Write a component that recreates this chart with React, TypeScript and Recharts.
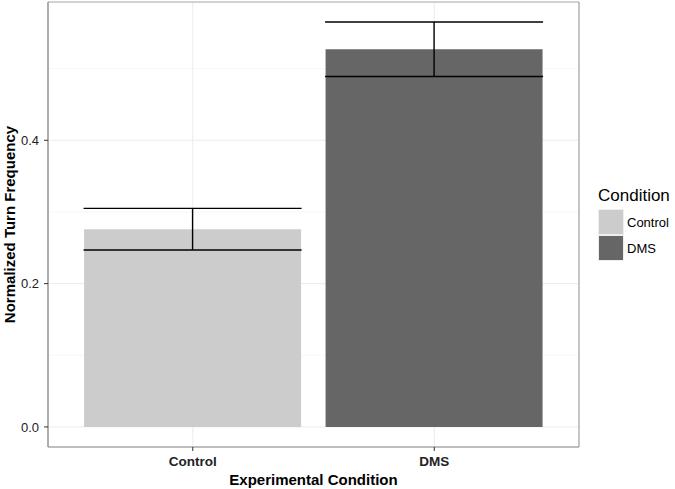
import { BarChart, Bar, Cell, XAxis, YAxis, CartesianGrid, ErrorBar, Legend, Customized, usePlotArea } from 'recharts'

const CONDITIONS = ['Control', 'DMS']
const MEANS = [0.276, 0.527]
const ERRORS = [0.029, 0.038]
const FILLS = ['#cccccc', '#666666']
const Y_TICKS = [0, 0.2, 0.4]
const MINOR_TICKS = [0.1, 0.3, 0.5]

const data = CONDITIONS.map((name, i) => ({ name, value: MEANS[i], err: ERRORS[i] }))

const FONT = '"Liberation Sans", Arial, sans-serif'

// ggplot-style panel border around the plot area
function PanelBorder() {
  const area = usePlotArea()
  if (!area) return null
  const { x, y, width, height } = area
  return (
    <g>
      <line x1={x} y1={y} x2={x + width} y2={y} stroke="#a6a6a6" strokeWidth={1.2} />
      <line x1={x + width} y1={y} x2={x + width} y2={y + height} stroke="#a6a6a6" strokeWidth={1.2} />
      <line x1={x} y1={y + height} x2={x + width} y2={y + height} stroke="#7f7f7f" strokeWidth={1.2} />
      <line x1={x} y1={y} x2={x} y2={y + height} stroke="#7f7f7f" strokeWidth={1.2} />
    </g>
  )
}

function ConditionLegend() {
  return (
    <div style={{ fontFamily: FONT, paddingLeft: 19, color: '#000', whiteSpace: 'nowrap' }}>
      <div style={{ fontSize: 17, lineHeight: '20px', marginBottom: 3 }}>Condition</div>
      {CONDITIONS.map((c, i) => (
        <div key={c} style={{ display: 'flex', alignItems: 'center', height: 26 }}>
          <span
            style={{
              display: 'inline-block',
              boxSizing: 'border-box',
              width: 26,
              height: 26,
              background: FILLS[i],
              border: '1.5px solid #eeeeee',
            }}
          />
          <span style={{ fontSize: 13, marginLeft: 3 }}>{c}</span>
        </div>
      ))}
    </div>
  )
}

function XTitle({ viewBox }: any) {
  if (!viewBox) return null
  return (
    <text
      x={viewBox.x + viewBox.width / 2}
      y={viewBox.y + 38}
      textAnchor="middle"
      style={{ fontSize: 15, fontWeight: 'bold', fill: '#000', fontFamily: FONT }}
    >
      Experimental Condition
    </text>
  )
}

function YTitle({ viewBox }: any) {
  if (!viewBox) return null
  const cx = viewBox.x + 15
  const cy = viewBox.y + viewBox.height / 2
  return (
    <text
      x={cx}
      y={cy}
      transform={`rotate(-90, ${cx}, ${cy})`}
      textAnchor="middle"
      style={{ fontSize: 15, fontWeight: 'bold', fill: '#000', fontFamily: FONT }}
    >
      Normalized Turn Frequency
    </text>
  )
}

export default function App() {
  return (
    <div style={{ position: 'absolute', left: 0, top: 0, width: 675, height: 489, background: '#fff', overflow: 'hidden' }}>
      <BarChart
        width={675}
        height={489}
        data={data}
        margin={{ top: 2, right: 6, bottom: 0, left: 0 }}
        barCategoryGap="5%"
      >
        <CartesianGrid stroke="#f7f7f7" horizontalValues={MINOR_TICKS} vertical={false} />
        <CartesianGrid stroke="#ebebeb" horizontalValues={Y_TICKS} />
        <XAxis
          dataKey="name"
          padding={{ left: 24, right: 24 }}
          height={42}
          axisLine={false}
          tickLine={{ stroke: '#333' }}
          tickSize={4}
          tickMargin={5}
          tick={{ fontSize: 13.5, fontWeight: 'bold', fill: '#222', fontFamily: FONT }}
          label={<XTitle />}
        />
        <YAxis
          domain={[-0.028, 0.593]}
          allowDataOverflow
          ticks={Y_TICKS}
          tickFormatter={(v: number) => v.toFixed(1)}
          width={48}
          axisLine={false}
          tickLine={{ stroke: '#333' }}
          tickSize={4}
          tickMargin={5}
          tick={{ fontSize: 13, fill: '#222', fontFamily: FONT }}
          label={<YTitle />}
        />
        <Legend
          layout="vertical"
          align="right"
          verticalAlign="top"
          width={90}
          wrapperStyle={{ top: 186 }}
          content={() => <ConditionLegend />}
        />
        <Bar dataKey="value" isAnimationActive={false}>
          {data.map((d, i) => (
            <Cell key={d.name} fill={FILLS[i]} />
          ))}
          <ErrorBar dataKey="err" width={109} stroke="#000" strokeWidth={1.4} isAnimationActive={false} />
        </Bar>
        <Customized component={<PanelBorder />} />
      </BarChart>
    </div>
  )
}
